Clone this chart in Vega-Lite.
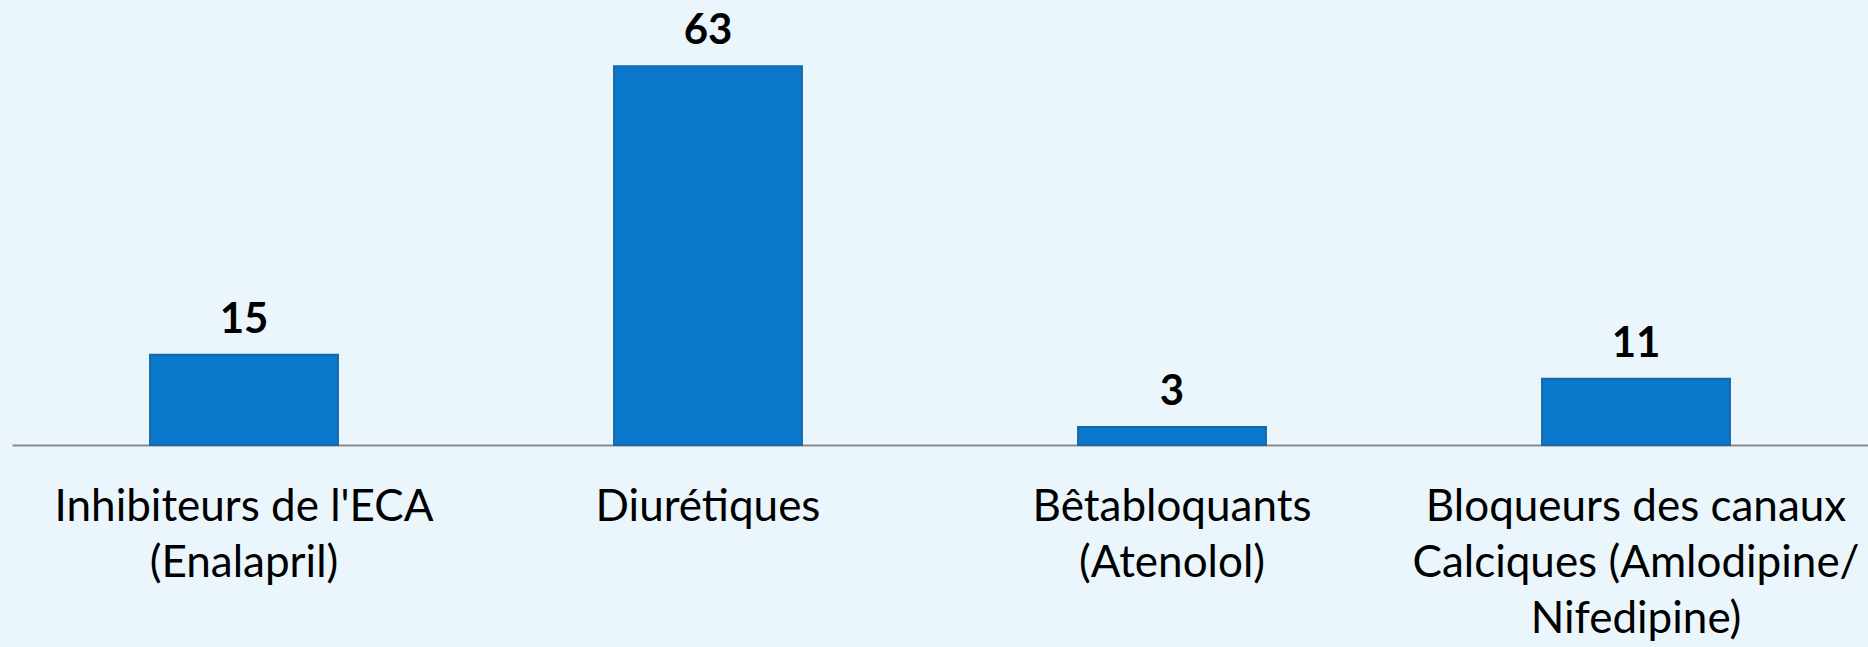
{
  "$schema": "https://vega.github.io/schema/vega-lite/v6.json",
  "autosize": {"type": "none"},
  "padding": {"left": 12, "top": 0, "right": 0, "bottom": 202},
  "width": 1856,
  "height": 445,
  "background": "#EAF6FC",
  "config": {"view": {"stroke": null}},
  "data": {
    "values": [
      {"classe": "Inhibiteurs de l'ECA|(Enalapril)", "valeur": 15},
      {"classe": "Diurétiques", "valeur": 63},
      {"classe": "Bêtabloquants|(Atenolol)", "valeur": 3},
      {"classe": "Bloqueurs des canaux|Calciques (Amlodipine/|Nifedipine)", "valeur": 11}
    ]
  },
  "encoding": {
    "x": {
      "field": "classe",
      "type": "nominal",
      "sort": null,
      "scale": {"paddingInner": 0.595, "paddingOuter": 0.2975},
      "axis": {
        "title": null,
        "labelAngle": 0,
        "ticks": false,
        "domainColor": "#8A8A8A",
        "domainWidth": 2,
        "labelFont": "Lato",
        "labelFontSize": 44,
        "labelColor": "#000000",
        "labelLimit": 0,
        "labelPadding": 40,
        "labelLineHeight": 56,
        "labelBaseline": "top",
        "labelExpr": "split(datum.label, '|')"
      }
    },
    "y": {
      "field": "valeur",
      "type": "quantitative",
      "scale": {"domain": [0, 74]},
      "axis": null
    }
  },
  "layer": [
    {
      "mark": {"type": "bar", "color": "#0A78CB", "stroke": "#1768A8", "strokeWidth": 2}
    },
    {
      "mark": {"type": "text", "baseline": "alphabetic", "dy": -22, "font": "Lato", "fontSize": 42, "fontWeight": "bold", "color": "#000000"},
      "encoding": {"text": {"field": "valeur", "type": "quantitative"}}
    }
  ]
}
